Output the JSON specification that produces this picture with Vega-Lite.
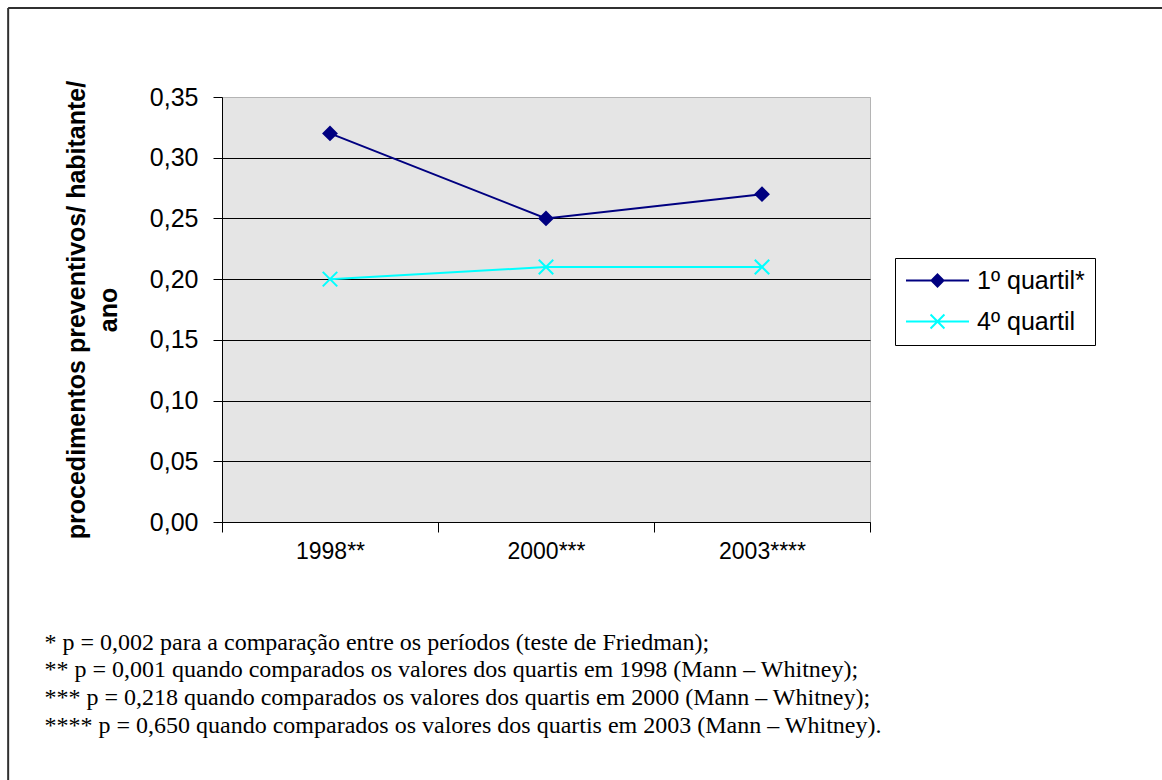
{
  "$schema": "https://vega.github.io/schema/vega-lite/v6.json",
  "width": 648,
  "height": 425,
  "autosize": {"type": "none"},
  "padding": {"left": 222, "top": 97, "right": 292, "bottom": 258},
  "background": "white",
  "config": {
    "view": {"fill": "#e5e5e5", "stroke": "#b4b4b4"},
    "font": "Liberation Sans"
  },
  "data": {
    "values": [
      {"ano": "1998**", "serie": "1º quartil*", "valor": 0.32},
      {"ano": "2000***", "serie": "1º quartil*", "valor": 0.25},
      {"ano": "2003****", "serie": "1º quartil*", "valor": 0.27},
      {"ano": "1998**", "serie": "4º quartil", "valor": 0.20},
      {"ano": "2000***", "serie": "4º quartil", "valor": 0.21},
      {"ano": "2003****", "serie": "4º quartil", "valor": 0.21}
    ]
  },
  "resolve": {"scale": {"x": "independent"}, "axis": {"x": "independent", "y": "independent"}},
  "layer": [
    {
      "encoding": {
        "x": {
          "field": "ano",
          "type": "ordinal",
          "sort": null,
          "scale": {"type": "band", "paddingInner": 0, "paddingOuter": 0},
          "axis": {
            "title": [
              "* p = 0,002 para a comparação entre os períodos (teste de Friedman);",
              "\u00a0** p = 0,001 quando comparados os valores dos quartis em 1998 (Mann – Whitney);",
              "\u00a0*** p = 0,218 quando comparados os valores dos quartis em 2000 (Mann – Whitney);",
              "\u00a0**** p = 0,650 quando comparados os valores dos quartis em 2003 (Mann – Whitney)."
            ],
            "titleFont": "Liberation Serif",
            "titleFontSize": 24,
            "titleFontWeight": "normal",
            "titleColor": "black",
            "titleLineHeight": 27.7,
            "titleAlign": "left",
            "titleAnchor": "start",
            "titleBaseline": "top",
            "titleX": -178,
            "titleY": 108,
            "labelAngle": 0,
            "tickBand": "extent",
            "domainColor": "black",
            "tickColor": "black",
            "tickSize": 10,
            "labelFontSize": 23,
            "labelFont": "Liberation Sans",
            "labelColor": "black",
            "labelPadding": 8,
            "grid": false
          }
        },
        "y": {
          "field": "valor",
          "type": "quantitative",
          "scale": {"domain": [0, 0.35]},
          "axis": {
            "orient": "left",
            "values": [0, 0.05, 0.1, 0.15, 0.2, 0.25, 0.3, 0.35],
            "labelExpr": "replace(format(datum.value, '.2f'), '.', ',')",
            "tickSize": 9,
            "tickColor": "black",
            "domainColor": "black",
            "labelPadding": 15,
            "labelFontSize": 25,
            "labelFont": "Liberation Sans",
            "labelColor": "black",
            "grid": true,
            "gridColor": {"condition": {"test": "datum.value > 0.34", "value": "#b4b4b4"}, "value": "black"},
            "gridWidth": 1,
            "title": ["procedimentos preventivos/ habitante/", "ano"],
            "titleFont": "Liberation Sans",
            "titleFontSize": 25,
            "titleFontWeight": "bold",
            "titleColor": "black",
            "titleLineHeight": 32,
            "titlePadding": 28
          }
        }
      },
      "layer": [
        {
          "mark": {"type": "line", "strokeWidth": 2},
          "encoding": {
            "color": {
              "field": "serie",
              "type": "nominal",
              "scale": {"domain": ["1º quartil*", "4º quartil"], "range": ["#000080", "#00FFFF"]},
              "legend": {
                "title": null,
                "orient": "none",
                "legendX": 673,
                "legendY": 161,
                "strokeColor": "black",
                "fillColor": "white",
                "padding": 10,
                "labelFontSize": 25,
                "labelFont": "Liberation Sans",
                "labelColor": "black",
                "symbolSize": 3969,
                "clipHeight": 25,
                "rowPadding": 15,
                "labelOffset": 7,
                "symbolStrokeWidth": 2,
                "encode": {
                  "symbols": {
                    "update": {
                      "shape": {"signal": "datum.value === '1º quartil*' ? 'M-1,0H1M0,-0.19L0.19,0L0,0.19L-0.19,0Z' : 'M-1,0H1M-0.22,-0.22L0.22,0.22M-0.22,0.22L0.22,-0.22'"},
                      "fill": {"signal": "scale('color', datum.value)"},
                      "stroke": {"signal": "scale('color', datum.value)"},
                      "opacity": {"value": 1}
                    }
                  }
                }
              }
            }
          }
        },
        {
          "transform": [{"filter": "datum.serie === '1º quartil*'"}],
          "mark": {"type": "point", "shape": "diamond", "filled": true, "color": "#000080", "stroke": "#000080", "strokeWidth": 2, "size": 170, "opacity": 1}
        },
        {
          "transform": [{"filter": "datum.serie === '4º quartil'"}],
          "mark": {"type": "point", "shape": "M-1,-1L1,1M-1,1L1,-1", "filled": false, "color": "#00FFFF", "strokeWidth": 2, "size": 210, "opacity": 1}
        }
      ]
    },
    {
      "data": {"values": [{}]},
      "layer": [
        {
          "mark": {"type": "rule", "color": "#303030", "strokeWidth": 2, "clip": false},
          "encoding": {
            "x": {"datum": -0.99, "type": "quantitative", "scale": {"domain": [0, 3]}, "axis": null},
            "y": {"datum": 0.4233, "type": "quantitative", "scale": {"domain": [0, 0.35]}, "axis": null},
            "y2": {"datum": -0.35}
          }
        },
        {
          "mark": {"type": "rule", "color": "#303030", "strokeWidth": 2, "clip": false},
          "encoding": {
            "x": {"datum": -0.99, "type": "quantitative", "scale": {"domain": [0, 3]}, "axis": null},
            "x2": {"datum": 4.5},
            "y": {"datum": 0.4233, "type": "quantitative", "scale": {"domain": [0, 0.35]}, "axis": null}
          }
        }
      ]
    }
  ]
}
